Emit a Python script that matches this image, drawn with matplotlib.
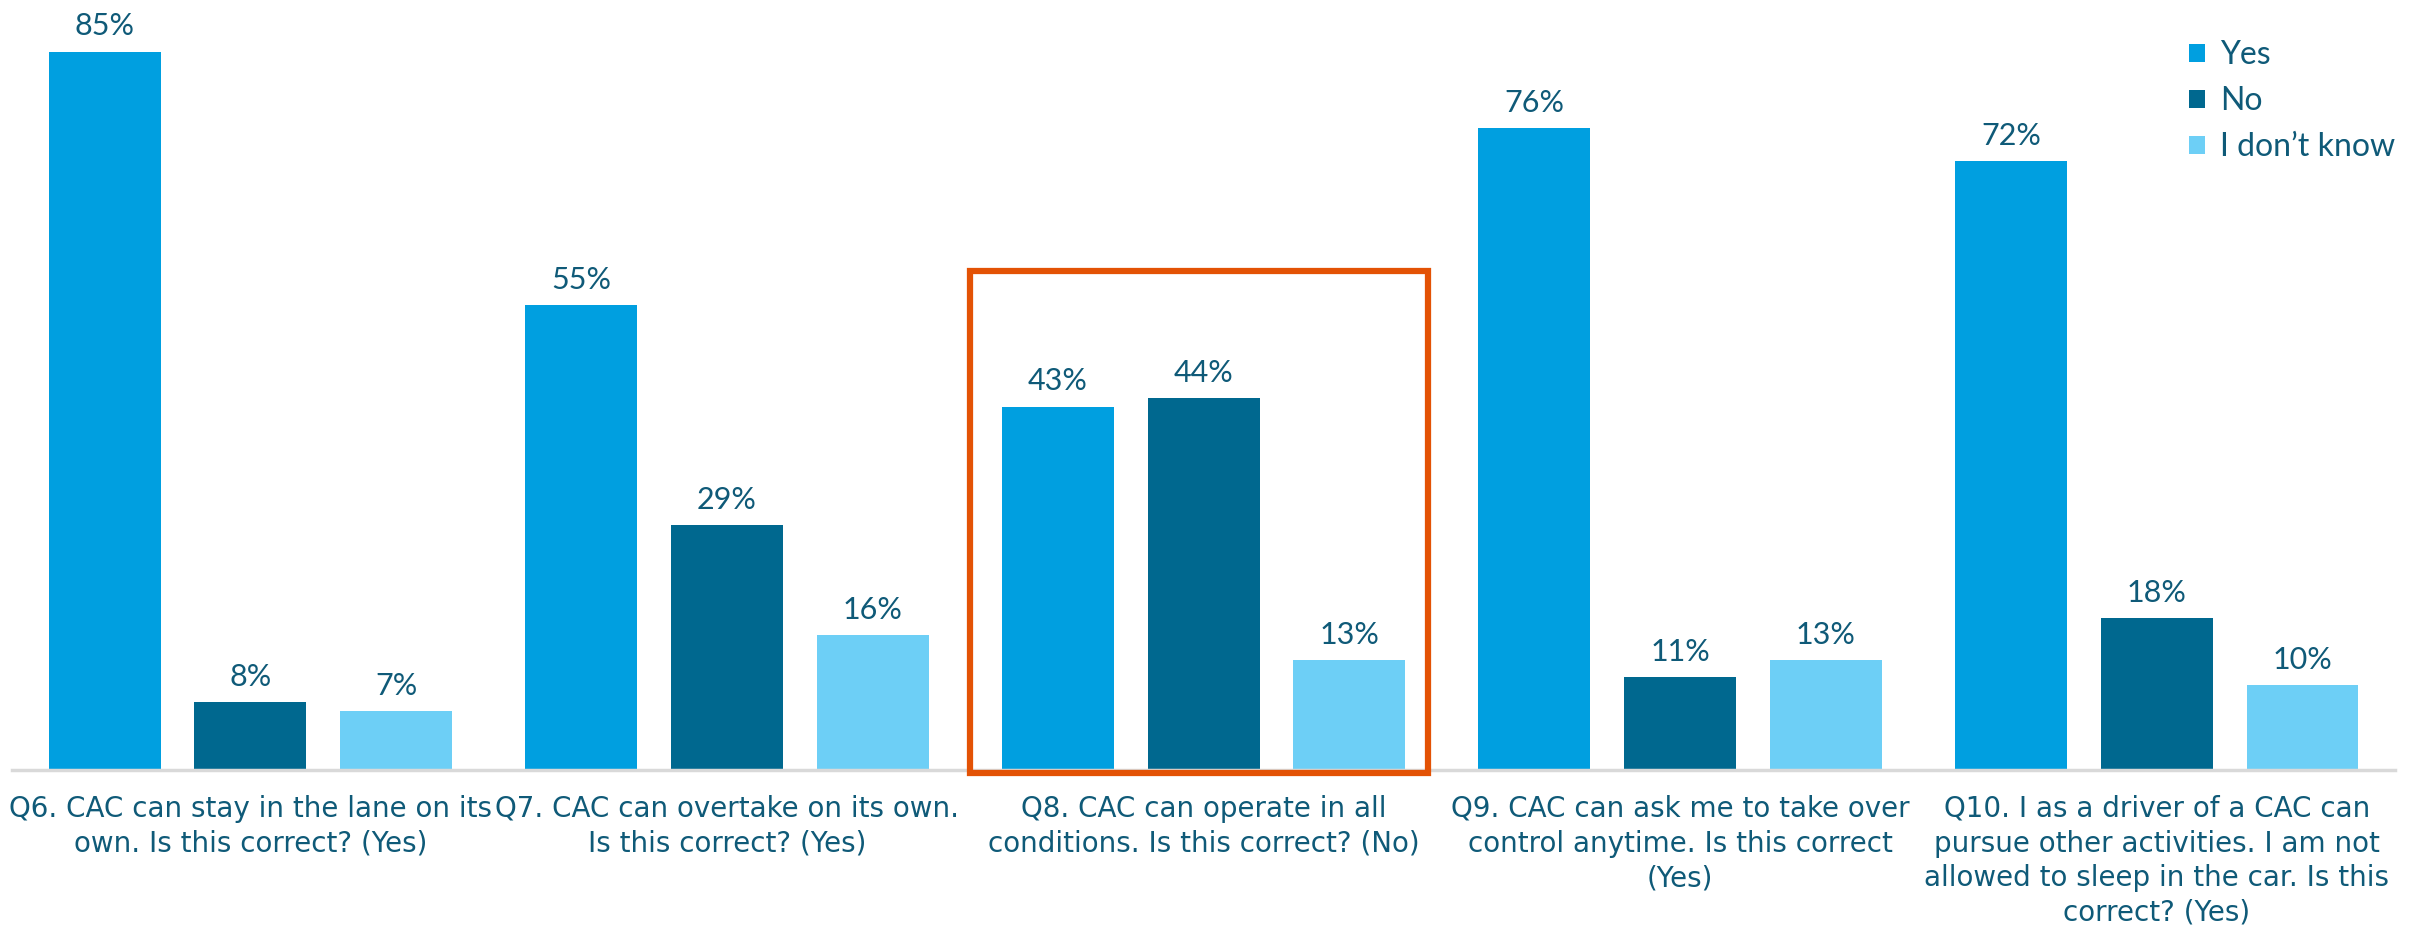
import numpy as np
import matplotlib.pyplot as plt
from matplotlib.patches import Rectangle

# ------------------------------------------------
# data
# ------------------------------------------------
questions = [
    "Q6. CAC can stay in the lane on its\nown. Is this correct? (Yes)",
    "Q7. CAC can overtake on its own.\nIs this correct? (Yes)",
    "Q8. CAC can operate in all\nconditions. Is this correct? (No)",
    "Q9. CAC can ask me to take over\ncontrol anytime. Is this correct\n(Yes)",
    "Q10. I as a driver of a CAC can\npursue other activities. I am not\nallowed to sleep in the car. Is this\ncorrect? (Yes)",
]
series_names = ["Yes", "No", "I don\u2019t know"]
yes_vals = [85, 55, 43, 76, 72]
no_vals = [8, 29, 44, 11, 18]
idk_vals = [7, 16, 13, 13, 10]
highlight_idx = 2

colors = ["#009FE0", "#00688F", "#6DCFF6"]
text_color = "#0F5A78"

# ------------------------------------------------
# plot
# ------------------------------------------------
fig = plt.figure(figsize=(24.15, 9.26), dpi=100)
ax = fig.add_axes([0.005, 0.1685, 0.9867, 0.8315])

x = np.arange(len(questions))
step = 0.306
width = 0.235

for i, (vals, name, col) in enumerate(zip([yes_vals, no_vals, idk_vals], series_names, colors)):
    pos = x + (i - 1) * step
    bars = ax.bar(pos, vals, width=width, color=col, label=name, zorder=2)
    for b, v in zip(bars, vals):
        ax.annotate(f"{v}%", (b.get_x() + b.get_width() / 2, v),
                    xytext=(0, 8), textcoords="offset points",
                    ha="center", va="bottom", fontsize=22,
                    color=text_color, family=["Lato", "DejaVu Sans"])

# highlight box around Q8
hx = x[highlight_idx]
ax.add_patch(Rectangle((hx - 0.49, -0.3), 0.96, 59.3, fill=False,
                       edgecolor="#E35205", linewidth=4.5, clip_on=False, zorder=3))

ax.set_xlim(-0.5, 4.5)
ax.set_ylim(0, 91.1)
ax.set_xticks(x)
ax.set_xticklabels(questions, fontsize=20, color=text_color, linespacing=1.3,
                   family=["Liberation Sans Narrow", "DejaVu Sans"])
ax.tick_params(axis="x", length=0, pad=18)
ax.set_yticks([])

for s in ["top", "right", "left"]:
    ax.spines[s].set_visible(False)
ax.spines["bottom"].set_color("#D9D9D9")
ax.spines["bottom"].set_linewidth(2.5)

leg = ax.legend(loc="upper right", bbox_to_anchor=(1.012, 0.985), frameon=False,
                fontsize=23, handlelength=0.5, handleheight=0.5,
                handletextpad=0.45, labelspacing=0.5)
for t in leg.get_texts():
    t.set_color(text_color)
    t.set_family(["Lato", "DejaVu Sans"])

fig.savefig("out.png", dpi=100)
